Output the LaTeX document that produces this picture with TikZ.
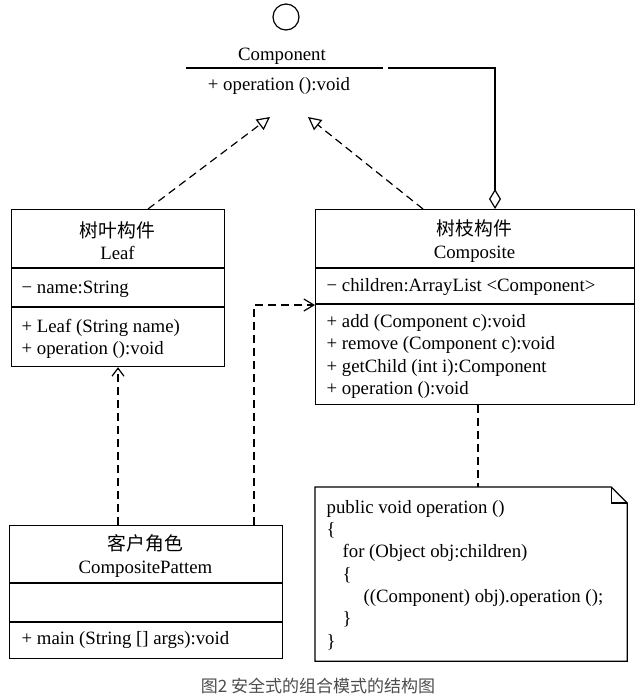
\documentclass[tikz,border=0pt]{standalone}
\usepackage{fontspec}
\setmainfont{Liberation Serif}
\newfontfamily\cjk{Noto Sans CJK SC}
\usetikzlibrary{arrows.meta}

\begin{document}
\begin{tikzpicture}[x=1pt, y=-1pt, line width=1.2pt, font=\fontsize{18.8}{22.3}\selectfont,
  cls/.style={draw, anchor=north west, inner sep=0pt},
  txt/.style={anchor=west, align=left, inner sep=0pt},
  dep/.style={dash pattern=on 8pt off 5pt}]
\useasboundingbox (0,0) rectangle (635,697);

\node[circle, draw, minimum size=26pt, inner sep=0pt] (ball) at (286,17) {};
\node (comp) at (282,56) {Component};
\node (compop) at (279,86) {+ operation ():void};
\draw (186,68) -- (383,68);
\coordinate (agg) at (388,68);
\coordinate (ltip) at (270,117);
\coordinate (rtip) at (308,117);

\node[cls, minimum width=213pt, minimum height=157pt] (leaf) at (11,209) {};
\draw (leaf.west |- 0,268) -- (leaf.east |- 0,268);
\draw (leaf.west |- 0,307) -- (leaf.east |- 0,307);
\node[align=center] (leafname) at (117.5,241) {{\cjk 树叶构件}\\Leaf};
\node[txt] (leafattr) at (21,289) {− name:String};
\node[txt] (leafops) at (21,339) {+ Leaf (String name)\\+ operation ():void};

\node[cls, minimum width=319pt, minimum height=195pt] (compo) at (315,209) {};
\draw (compo.west |- 0,268) -- (compo.east |- 0,268);
\draw (compo.west |- 0,304) -- (compo.east |- 0,304);
\node[align=center] (componame) at (474.5,241) {{\cjk 树枝构件}\\Composite};
\node[txt] (compoattr) at (326,287) {− children:ArrayList <Component>};
\node[txt] (compoops) at (326,356.5) {+ add (Component c):void\\+ remove (Component c):void\\+ getChild (int i):Component\\+ operation ():void};

\node[cls, minimum width=273pt, minimum height=133pt] (client) at (9,525) {};
\draw (client.west |- 0,583) -- (client.east |- 0,583);
\draw (client.west |- 0,622) -- (client.east |- 0,622);
\node[align=center] (clientname) at (145.5,556) {{\cjk 客户角色}\\CompositePattem};
\node[txt] (clientops) at (21,640) {+ main (String [] args):void};

\node[anchor=north west, minimum width=311pt, minimum height=173pt, inner sep=0pt] (note) at (315,487) {};
\draw (note.north west) -- ([xshift=-16pt]note.north east) -- ([yshift=-16pt]note.north east) -- (note.south east) -- (note.south west) -- cycle;
\draw ([xshift=-16pt]note.north east) -- ([xshift=-16pt, yshift=-16pt]note.north east) -- ([yshift=-16pt]note.north east);
\node[txt] (code) at (326,575) {public void operation ()\\\{\\\hspace*{16pt}for (Object obj:children)\\\hspace*{16pt}\{\\\hspace*{37pt}((Component) obj).operation ();\\\hspace*{16pt}\}\\\}};

\draw[dep, -{Triangle[open, length=13pt, width=13pt]}] (148,0 |- leaf.north) -- (ltip);
\draw[dep, -{Triangle[open, length=13pt, width=13pt]}] (423,0 |- compo.north) -- (rtip);
\draw[-{Diamond[open, length=20pt, width=12pt]}] (agg) -| (495,0 |- compo.north);
\draw[dep, -{Straight Barb[length=8pt, width=12pt]}] (118,0 |- client.north) -- (118,0 |- leaf.south);
\draw[dep, -{Straight Barb[length=10pt, width=12pt]}] (254,0 |- client.north) |- (compo.west |- 0,305);
\draw[dep] (478,0 |- compo.south) -- (478,0 |- note.north);

\node[text=black!70, font=\cjk\fontsize{17}{19}\selectfont] (caption) at (318,686) {图2 安全式的组合模式的结构图};
\end{tikzpicture}
\end{document}
